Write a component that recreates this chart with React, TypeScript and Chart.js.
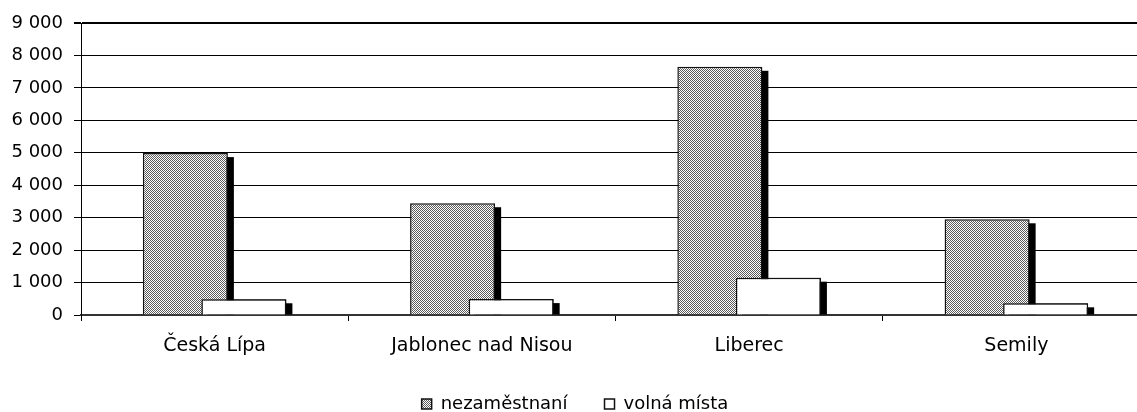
import React, { useEffect, useRef } from 'react';
import { Chart, registerables } from 'chart.js';

Chart.register(...registerables);

const categories = ['Česká Lípa', 'Jablonec nad Nisou', 'Liberec', 'Semily'];
const seriesLabels = ['nezaměstnaní', 'volná místa'];
const unemployed = [4990, 3445, 7650, 2950];
const vacancies = [485, 490, 1150, 360];
const yTickValues = [0, 1000, 2000, 3000, 4000, 5000, 6000, 7000, 8000, 9000];

function formatThousands(v: number): string {
  return String(v).replace(/\B(?=(\d{3})+(?!\d))/g, ' ');
}

function drawShadows(chart: any, datasetIndex: number) {
  const meta = chart.getDatasetMeta(datasetIndex);
  const area = chart.chartArea;
  const ctx = chart.ctx;
  ctx.save();
  ctx.beginPath();
  ctx.rect(area.left, area.top, area.right - area.left, area.bottom - area.top);
  ctx.clip();
  ctx.fillStyle = '#000';
  for (const el of meta.data) {
    const p = el.getProps(['x', 'y', 'base', 'width'], true);
    const left = p.x - p.width / 2 + 6;
    const top = Math.min(p.y, p.base) + 4;
    const bottom = Math.max(p.y, p.base);
    if (bottom > top) ctx.fillRect(left, top, p.width, bottom - top);
  }
  ctx.restore();
}

const shadowPlugin = {
  id: 'barShadow',
  beforeDatasetDraw(chart: any, args: any) {
    if (args.index === 0) drawShadows(chart, 0);
  },
  afterDatasetsDraw(chart: any) {
    // the second series sits in front of the first one, as in the original
    drawShadows(chart, 1);
    const meta = chart.getDatasetMeta(1);
    const area = chart.chartArea;
    const ctx = chart.ctx;
    ctx.save();
    ctx.beginPath();
    ctx.rect(area.left, area.top, area.right - area.left, area.bottom - area.top);
    ctx.clip();
    for (const el of meta.data) el.draw(ctx);
    ctx.restore();
  },
};

export default function App() {
  const ref = useRef<HTMLCanvasElement>(null);

  useEffect(() => {
    const canvas = ref.current!;
    const tile = document.createElement('canvas');
    tile.width = 2;
    tile.height = 2;
    const t = tile.getContext('2d')!;
    t.fillStyle = '#fff';
    t.fillRect(0, 0, 2, 2);
    t.fillStyle = '#5a5a5a';
    t.fillRect(0, 0, 1, 1);
    t.fillRect(1, 1, 1, 1);
    const pattern = canvas.getContext('2d')!.createPattern(tile, 'repeat')!;

    const font = 'DejaVu Sans';
    const chart = new Chart(canvas, {
      type: 'bar',
      data: {
        labels: categories,
        datasets: [
          {
            label: seriesLabels[0],
            data: unemployed,
            backgroundColor: pattern as any,
            borderColor: '#111',
            borderWidth: 1.5,
            categoryPercentage: 0.438,
            barPercentage: 1.453,
            clip: 0,
          } as any,
          {
            label: seriesLabels[1],
            data: vacancies,
            backgroundColor: '#fff',
            borderColor: '#111',
            borderWidth: 1.5,
            categoryPercentage: 0.438,
            barPercentage: 1.453,
            clip: 0,
          } as any,
        ],
      },
      options: {
        responsive: false,
        animation: false,
        devicePixelRatio: 1,
        layout: { padding: { left: 0, right: 10, top: 23, bottom: 0 } },
        plugins: {
          legend: {
            position: 'bottom',
            labels: {
              font: { family: font, size: 18 },
              color: '#000',
              boxWidth: 10,
              boxHeight: 10,
              padding: 37,
            },
          },
          tooltip: { enabled: false },
        },
        scales: {
          x: {
            grid: { drawOnChartArea: false, drawTicks: true, tickLength: 6, color: '#000' },
            border: { color: '#333', width: 2 },
            ticks: {
              font: { family: font, size: 19 },
              color: '#000',
              padding: 14,
              maxRotation: 0,
              autoSkip: false,
            },
            afterFit: (s: any) => {
              s.height = 43;
            },
          },
          y: {
            min: 0,
            max: 9000,
            afterBuildTicks: (s: any) => {
              s.ticks = yTickValues.map((v) => ({ value: v }));
            },
            ticks: {
              font: { family: font, size: 18 },
              color: '#000',
              padding: 11,
              callback: (v: any) => formatThousands(Number(v)),
            },
            grid: {
              color: '#000',
              lineWidth: (c: any) => (c.tick && c.tick.value === 9000 ? 2 : 1),
              tickLength: 7,
            },
            border: { color: '#000', width: 1 },
            afterFit: (s: any) => {
              s.width = 81;
            },
          },
        },
      } as any,
      plugins: [shadowPlugin],
    });
    return () => chart.destroy();
  }, []);

  return (
    <div
      style={{
        position: 'absolute',
        left: 0,
        top: 0,
        width: 1137,
        height: 412,
        overflow: 'hidden',
        background: '#fff',
      }}
    >
      <canvas ref={ref} width={1160} height={423} style={{ display: 'block' }} />
    </div>
  );
}
